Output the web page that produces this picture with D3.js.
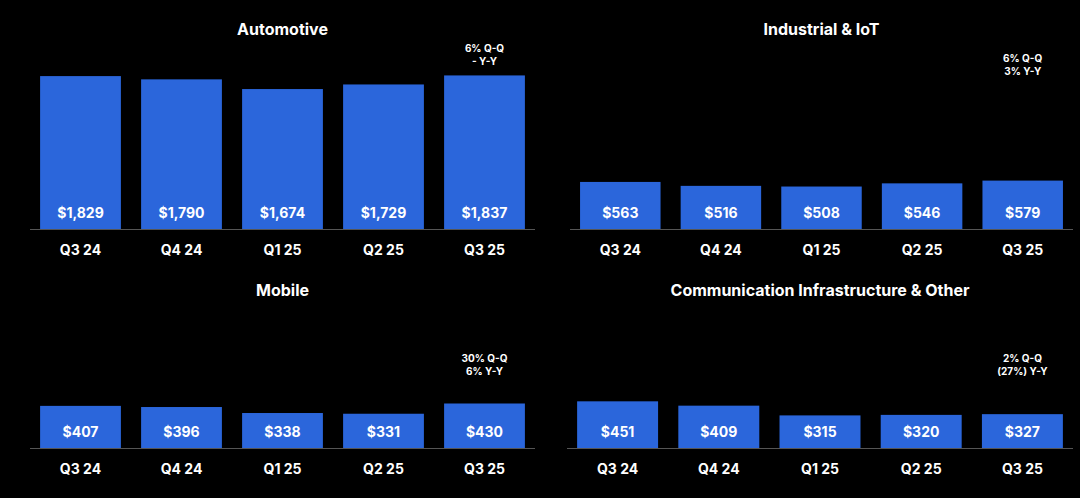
<!DOCTYPE html>
<html><head><meta charset="utf-8">
<script src="https://cdn.jsdelivr.net/npm/d3@7"></script>
<style>body{margin:0;background:#000}svg{display:block}text{font-family:Inter,"Noto Sans",sans-serif}</style>
</head><body>
<script>
var quarters = ["Q3 24", "Q4 24", "Q1 25", "Q2 25", "Q3 25"];
var automotive = [1829, 1790, 1674, 1729, 1837];
var industrial = [563, 516, 508, 546, 579];
var mobile = [407, 396, 338, 331, 430];
var comms = [451, 409, 315, 320, 327];
var titles = ["Automotive", "Industrial & IoT", "Mobile", "Communication Infrastructure & Other"];
var notes = [["6% Q-Q", "- Y-Y"], ["6% Q-Q", "3% Y-Y"], ["30% Q-Q", "6% Y-Y"], ["2% Q-Q", "(27%) Y-Y"]];

var svg = d3.select("body").append("svg").attr("width", 1080).attr("height", 498);

// panel frames: x0, x1, baseline, title y, note y, px per unit
var panels = [
  {data: automotive, x0: 30, x1: 535, base: 229, ty: 31, ny: 49, k: 0.0836},
  {data: industrial, x0: 570, x1: 1073, base: 229, ty: 31, ny: 59, k: 0.0836},
  {data: mobile, x0: 30, x1: 535, base: 448, ty: 292, ny: 359, k: 0.1035},
  {data: comms, x0: 567, x1: 1073, base: 448, ty: 292, ny: 359, k: 0.1035}
];

panels.forEach(function(p, i) {
  var x = d3.scaleBand().domain(quarters).range([p.x0, p.x1]).paddingInner(0.2).paddingOuter(0.1);
  var y = d3.scaleLinear().domain([0, 1]).range([p.base, p.base - p.k]);
  var g = svg.append("g");

  g.append("text").attr("x", (p.x0 + p.x1) / 2).attr("y", p.ty).attr("text-anchor", "middle")
    .attr("dominant-baseline", "middle").attr("fill", "#fff").attr("font-size", 16).attr("font-weight", 700)
    .text(titles[i]);

  g.selectAll("rect").data(p.data).enter().append("rect")
    .attr("x", function(d, j) { return x(quarters[j]); })
    .attr("width", x.bandwidth())
    .attr("y", function(d) { return y(d); })
    .attr("height", function(d) { return p.base - y(d); })
    .attr("fill", "#2b66db");

  g.append("line").attr("x1", p.x0).attr("x2", p.x1).attr("y1", p.base + 0.5).attr("y2", p.base + 0.5)
    .attr("stroke", "#555").attr("stroke-width", 1);

  g.selectAll(".v").data(p.data).enter().append("text")
    .attr("x", function(d, j) { return x(quarters[j]) + x.bandwidth() / 2; })
    .attr("y", p.base - 15).attr("text-anchor", "middle").attr("dominant-baseline", "middle")
    .attr("fill", "#fff").attr("font-size", 14).attr("font-weight", 700)
    .text(function(d) { return "$" + d3.format(",")(d); });

  var axis = g.append("g").attr("transform", "translate(0," + p.base + ")")
    .call(d3.axisBottom(x).tickSize(0).tickPadding(16));
  axis.select(".domain").remove();
  axis.selectAll("text").attr("fill", "#fff").attr("font-size", 14).attr("font-weight", 700)
    .attr("font-family", "Inter, 'Noto Sans', sans-serif");

  var nx = x(quarters[4]) + x.bandwidth() / 2;
  notes[i].forEach(function(t, j) {
    g.append("text").attr("x", nx).attr("y", p.ny + j * 13).attr("text-anchor", "middle")
      .attr("dominant-baseline", "middle").attr("fill", "#fff").attr("font-size", 10).attr("font-weight", 700)
      .text(t);
  });
});
</script>
</body></html>
